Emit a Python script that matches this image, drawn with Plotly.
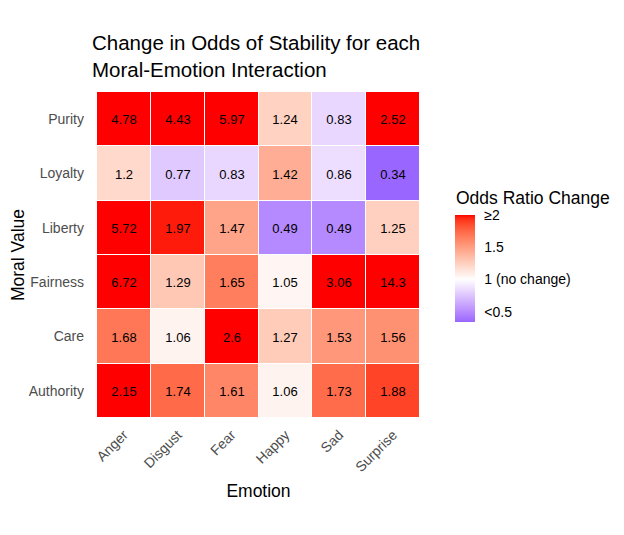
import numpy as np
import plotly.graph_objects as go

emotions = ["Anger", "Disgust", "Fear", "Happy", "Sad", "Surprise"]
morals = ["Authority", "Care", "Fairness", "Liberty", "Loyalty", "Purity"]

authority = [2.15, 1.74, 1.61, 1.06, 1.73, 1.88]
care = [1.68, 1.06, 2.6, 1.27, 1.53, 1.56]
fairness = [6.72, 1.29, 1.65, 1.05, 3.06, 14.3]
liberty = [5.72, 1.97, 1.47, 0.49, 0.49, 1.25]
loyalty = [1.2, 0.77, 0.83, 1.42, 0.86, 0.34]
purity = [4.78, 4.43, 5.97, 1.24, 0.83, 2.52]

tick_vals = [0.5, 1, 1.5, 2]
tick_text = ["<0.5", "1 (no change)", "1.5", "≥2"]

odds = [authority, care, fairness, liberty, loyalty, purity]
z_min = min(min(r) for r in odds)
z_max = 2.0
mid = 1.0

FONT = "Liberation Sans, Arial, Helvetica, sans-serif"

# page body has an 8px margin, so the figure is a bit smaller than the window
W, H = 616, 527
L, T = 89, 84


# ggplot-style gradient: interpolate in CIELAB
def _to_lab(rgb):
    c = np.array(rgb, dtype=float) / 255
    c = np.where(c > 0.04045, ((c + 0.055) / 1.055) ** 2.4, c / 12.92)
    m = np.array([[0.4124, 0.3576, 0.1805],
                  [0.2126, 0.7152, 0.0722],
                  [0.0193, 0.1192, 0.9505]])
    xyz = m @ c / np.array([0.95047, 1.0, 1.08883])
    f = np.where(xyz > 0.008856, np.cbrt(xyz), 7.787 * xyz + 16 / 116)
    return np.array([116 * f[1] - 16, 500 * (f[0] - f[1]), 200 * (f[1] - f[2])])


def _from_lab(lab):
    fy = (lab[0] + 16) / 116
    fx = fy + lab[1] / 500
    fz = fy - lab[2] / 200
    f = np.array([fx, fy, fz])
    xyz = np.where(f ** 3 > 0.008856, f ** 3, (f - 16 / 116) / 7.787)
    xyz = xyz * np.array([0.95047, 1.0, 1.08883])
    m = np.array([[3.2406, -1.5372, -0.4986],
                  [-0.9689, 1.8758, 0.0415],
                  [0.0557, -0.2040, 1.0570]])
    c = m @ xyz
    c = np.where(c > 0.0031308, 1.055 * np.abs(c) ** (1 / 2.4) - 0.055, 12.92 * c)
    c = np.clip(c, 0, 1) * 255
    return "rgb(%d,%d,%d)" % tuple(np.round(c))


low, white, high = _to_lab((153, 102, 255)), _to_lab((255, 255, 255)), _to_lab((255, 0, 0))
colorscale = []
for v in np.linspace(z_min, z_max, 41):
    if v <= mid:
        t = (v - z_min) / (mid - z_min)
        lab = low + (white - low) * t
    else:
        t = (v - mid) / (z_max - mid)
        lab = white + (high - white) * t
    colorscale.append([(v - z_min) / (z_max - z_min), _from_lab(lab)])
colorscale[-1][0] = 1.0

fig = go.Figure(
    go.Heatmap(
        z=odds,
        x=emotions,
        y=morals,
        text=[[str(v) for v in row] for row in odds],
        texttemplate="%{text}",
        textfont=dict(family=FONT, size=13, color="black"),
        colorscale=colorscale,
        zmin=z_min,
        zmax=z_max,
        xgap=1,
        ygap=1,
        hoverongaps=False,
        colorbar=dict(
            tickvals=tick_vals,
            ticktext=tick_text,
            tickfont=dict(family=FONT, size=14, color="black"),
            ticks="outside",
            ticklen=7,
            tickcolor="rgba(0,0,0,0)",
            thickness=20,
            lenmode="pixels",
            len=107,
            ypad=0,
            xpad=0,
            outlinewidth=0,
            x=(455 - 97) / 323,
            xanchor="left",
            y=(418 - 268.5) / 326,
            yanchor="middle",
        ),
    )
)

fig.update_layout(
    width=W,
    height=H,
    paper_bgcolor="white",
    plot_bgcolor="white",
    margin=dict(l=L, r=W - L - 323, t=T, b=H - T - 326),
    font=dict(family=FONT),
    title=dict(
        text="Change in Odds of Stability for each<br>Moral-Emotion Interaction",
        font=dict(family=FONT, size=20.5, color="black"),
        xref="container",
        x=84 / W,
        xanchor="left",
        yref="container",
        y=1 - 42 / H,
        yanchor="top",
    ),
    annotations=[
        dict(
            text="Odds Ratio Change",
            xref="paper",
            yref="paper",
            x=(454 - 97) / 323,
            y=(418 - 198) / 326,
            xanchor="left",
            yanchor="middle",
            showarrow=False,
            font=dict(family=FONT, size=17.5, color="black"),
        )
    ],
)
fig.update_xaxes(
    title=dict(text="Emotion", font=dict(family=FONT, size=17.5, color="black"), standoff=10),
    tickangle=-45,
    tickfont=dict(family=FONT, size=14, color="#4D4D4D"),
    ticklabelstandoff=5,
    showgrid=False,
    zeroline=False,
    ticks="",
    automargin=False,
)
fig.update_yaxes(
    title=dict(text="Moral Value", font=dict(family=FONT, size=17.5, color="black"), standoff=0),
    tickfont=dict(family=FONT, size=14, color="#4D4D4D"),
    ticklabelstandoff=12,
    showgrid=False,
    zeroline=False,
    ticks="",
    automargin=False,
)

fig.write_html("out.html")
